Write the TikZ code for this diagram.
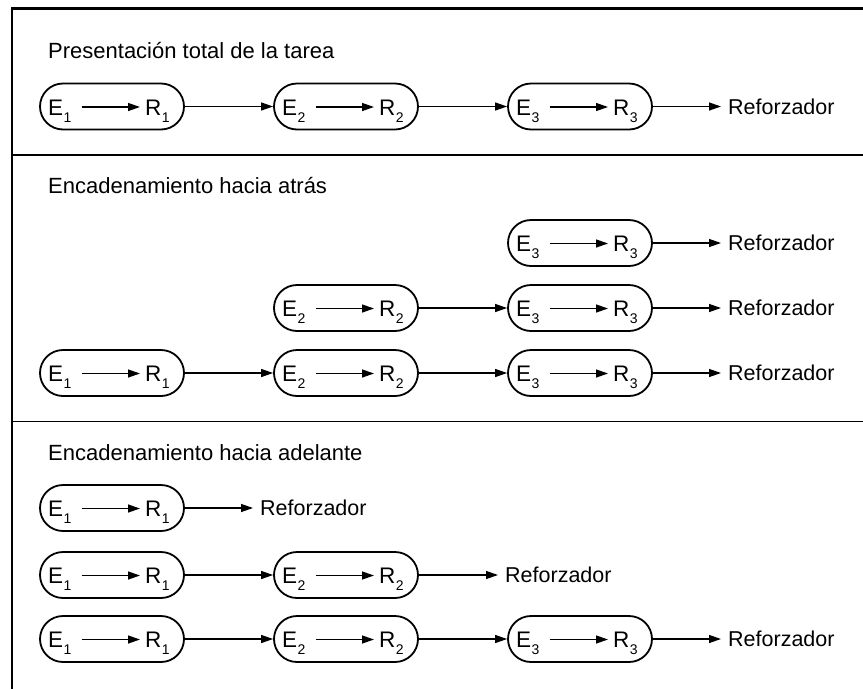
\documentclass[tikz,border=0pt]{standalone}
\usepackage{fontspec}
\setmainfont{Liberation Sans}
\usetikzlibrary{arrows.meta}
\newcommand\subidx[1]{\hspace{0.5pt}\raisebox{-7pt}{\fontsize{14}{14}\selectfont #1}}
\tikzset{
  stagebox/.style={draw, line width=1.8pt, rounded corners=23pt, minimum width=144pt, minimum height=46pt, inner sep=0pt},
  lbl/.style={inner sep=0pt, font=\fontsize{22.5}{26}\selectfont, anchor=base west},
  ttl/.style={inner sep=0pt, font=\fontsize{22}{26}\selectfont, anchor=base west},
  reftext/.style={inner sep=0pt, font=\fontsize{21.5}{25}\selectfont, anchor=west},
  conn/.style={line width=1.3pt, -{Triangle[length=12pt,width=8pt]}},
  framel/.style={line width=2.2pt},
  sepl/.style={line width=1.6pt},
}
% #1 name, #2 x, #3 y, #4 index
\newcommand\mystage[4]{%
  \node[stagebox] (#1) at (#2,#3) {};
  \node[lbl] (#1e) at ([xshift=-64pt,yshift=-8.5pt]#1.center) {E\subidx{#4}};
  \node[lbl] (#1r) at ([xshift=33pt,yshift=-8.5pt]#1.center) {R\subidx{#4}};
  \draw[conn, shorten <=10pt, shorten >=5pt] ([yshift=8pt]#1e.base east) -- ([yshift=8pt]#1r.base west);
}
\begin{document}
\begin{tikzpicture}[x=1pt, y=-1pt]
\useasboundingbox (0,0) rectangle (863,689);
% frame and separators
\draw[framel] (12,689) -- (12,8.5) -- (863,8.5);
\draw[sepl] (12,155) -- (863,155);
\draw[sepl] (12,421.5) -- (863,421.5);
% titles
\node[ttl] (t1) at (48,58.5) {Presentación total de la tarea};
\node[ttl] (t2) at (48,193.5) {Encadenamiento hacia atrás};
\node[ttl] (t3) at (48,460) {Encadenamiento hacia adelante};
% Section 1
\mystage{a1}{112}{106.5}{1}
\mystage{a2}{346}{106.5}{2}
\mystage{a3}{580}{106.5}{3}
\node[reftext] (ar) at (728,106.5) {Reforzador};
\draw[conn] (a1) -- (a2);
\draw[conn] (a2) -- (a3);
\draw[conn, shorten >=7pt] (a3) -- (ar);
% Section 2 row 1
\mystage{b3}{580}{243}{3}
\node[reftext] (br) at (728,243) {Reforzador};
\draw[conn, shorten >=7pt] (b3) -- (br);
% Section 2 row 2
\mystage{c2}{346}{308}{2}
\mystage{c3}{580}{308}{3}
\node[reftext] (cr) at (728,308) {Reforzador};
\draw[conn] (c2) -- (c3);
\draw[conn, shorten >=7pt] (c3) -- (cr);
% Section 2 row 3
\mystage{d1}{112}{373}{1}
\mystage{d2}{346}{373}{2}
\mystage{d3}{580}{373}{3}
\node[reftext] (dr) at (728,373) {Reforzador};
\draw[conn] (d1) -- (d2);
\draw[conn] (d2) -- (d3);
\draw[conn, shorten >=7pt] (d3) -- (dr);
% Section 3 row 1
\mystage{e1}{112}{508}{1}
\node[reftext] (er) at (260,508) {Reforzador};
\draw[conn, shorten >=7pt] (e1) -- (er);
% Section 3 row 2
\mystage{f1}{112}{575}{1}
\mystage{f2}{346}{575}{2}
\node[reftext] (fr) at (505,575) {Reforzador};
\draw[conn] (f1) -- (f2);
\draw[conn, shorten >=7pt] (f2) -- (fr);
% Section 3 row 3
\mystage{g1}{112}{639}{1}
\mystage{g2}{346}{639}{2}
\mystage{g3}{580}{639}{3}
\node[reftext] (gr) at (728,639) {Reforzador};
\draw[conn] (g1) -- (g2);
\draw[conn] (g2) -- (g3);
\draw[conn, shorten >=7pt] (g3) -- (gr);
\end{tikzpicture}
\end{document}
